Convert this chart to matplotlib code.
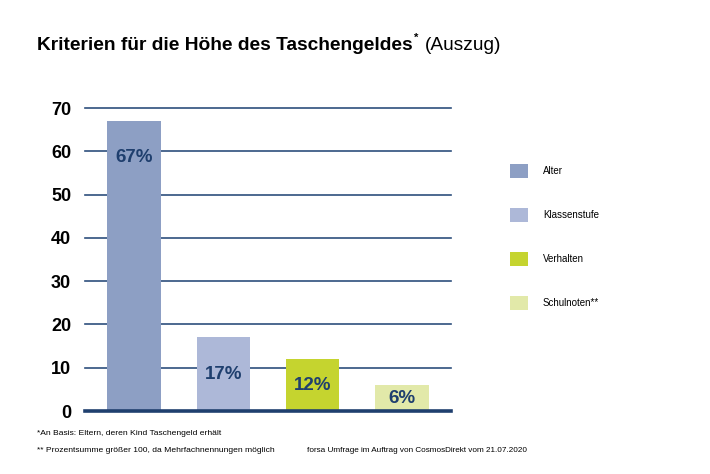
import matplotlib.pyplot as plt

plt.rcParams['font.family'] = ['Liberation Sans', 'DejaVu Sans']

categories = ['Alter', 'Klassenstufe', 'Verhalten', 'Schulnoten**']
values = [67, 17, 12, 6]
labels = ['67%', '17%', '12%', '6%']
colors = ['#8d9fc4', '#adb8d8', '#c5d42f', '#e2e9a9']
yticks = [0, 10, 20, 30, 40, 50, 60, 70]

navy = '#1f3f6e'

fig = plt.figure(figsize=(7.1, 4.74), dpi=100)
ax = fig.add_axes([0.1197, 0.1329, 0.5155, 0.6392])

x = range(len(values))
bars = ax.bar(x, values, width=0.6, color=colors, zorder=3, label=categories)
for b, v, t in zip(bars, values, labels):
    ax.text(b.get_x() + b.get_width() / 2, max(v - 8.5, v / 2), t,
            ha='center', va='center', fontsize=13.5, fontweight='bold', color=navy, zorder=4)

ax.set_xlim(-0.55, 3.55)
ax.set_ylim(0, 70)
ax.set_yticks(yticks)
ax.set_yticklabels([str(t) for t in yticks], fontsize=13, fontweight='bold')
ax.tick_params(axis='y', length=0, pad=10)
ax.set_xticks([])
for s in ax.spines.values():
    s.set_visible(False)
ax.yaxis.grid(True, color='#2d4f7d', linewidth=1.2, zorder=1)
ax.set_axisbelow(True)
for gl in ax.get_ygridlines():
    gl.set_clip_on(False)
ax.axhline(0, color=navy, linewidth=2.6, zorder=5, clip_on=False)

fig.legend(handles=list(bars), labels=categories, loc='upper left',
           bbox_to_anchor=(0.718, 0.655), frameon=False, fontsize=7,
           handlelength=1.9, handleheight=1.9, handletextpad=1.5,
           labelspacing=3.05, borderpad=0, borderaxespad=0)

# title pieces placed one after another
t1 = fig.text(0.052, 0.905, 'Kriterien für die Höhe des Taschengeldes', fontsize=13.8,
              fontweight='bold', ha='left', va='center')
fig.canvas.draw()
r = fig.canvas.get_renderer()
bb = t1.get_window_extent(r)
x_end = bb.x1 / fig.bbox.width
fig.text(x_end + 0.002, 0.92, '*', fontsize=8, fontweight='bold', ha='left', va='center')
fig.text(x_end + 0.018, 0.905, '(Auszug)', fontsize=13.8, ha='left', va='center')

fig.text(0.052, 0.085, '*An Basis: Eltern, deren Kind Taschengeld erhält', fontsize=6.1, ha='left', va='center')
fig.text(0.052, 0.049, '** Prozentsumme größer 100, da Mehrfachnennungen möglich', fontsize=6.1, ha='left', va='center')
fig.text(0.432, 0.049, 'forsa Umfrage im Auftrag von CosmosDirekt vom 21.07.2020', fontsize=5.9, ha='left', va='center')

fig.savefig('out.png', dpi=100)
